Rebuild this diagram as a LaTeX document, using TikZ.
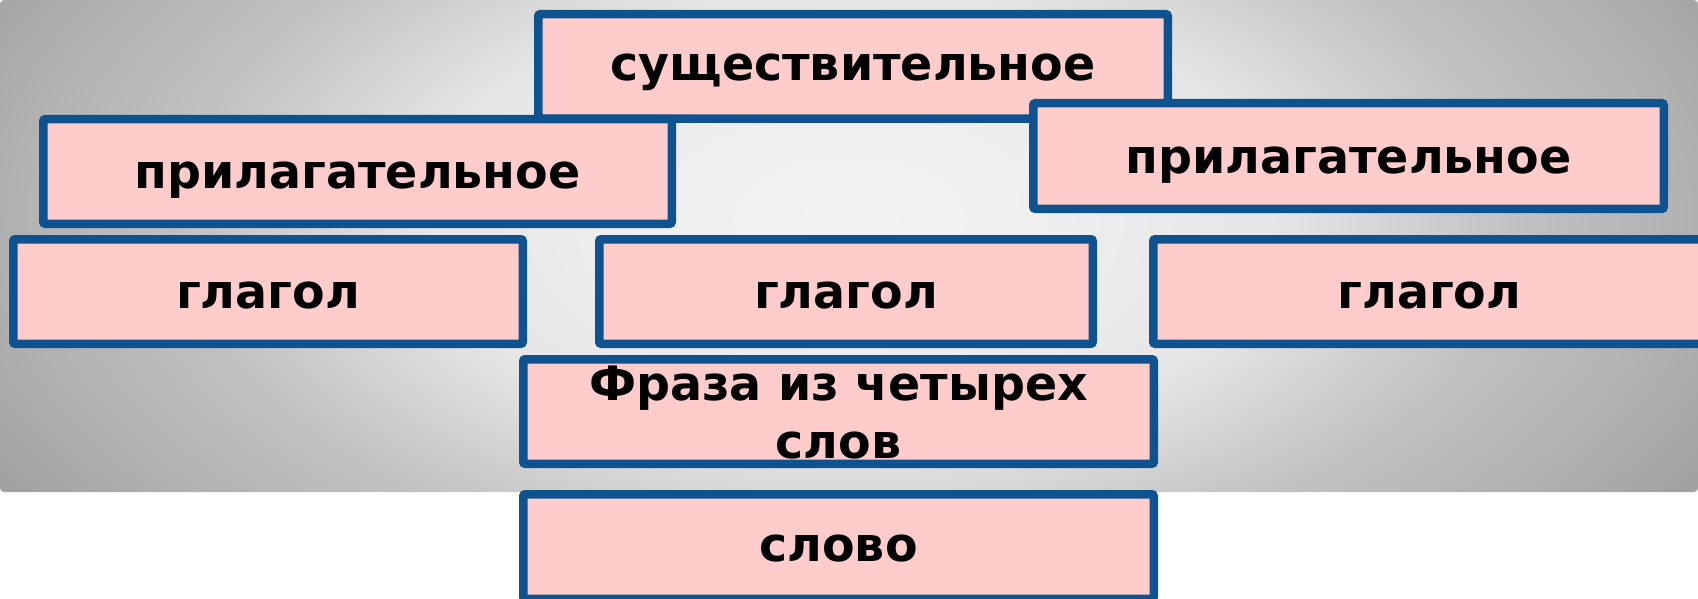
\documentclass[tikz,border=0pt]{standalone}
\usepackage{fontspec}
\setmainfont{DejaVu Sans}
\definecolor{bord}{RGB}{14,83,144}
\definecolor{pinkf}{RGB}{255,204,204}
\definecolor{bgA}{gray}{0.95}
\definecolor{bgB}{gray}{0.94}
\definecolor{bgC}{gray}{0.90}
\definecolor{bgD}{gray}{0.85}
\definecolor{bgE}{gray}{0.76}
\definecolor{bgF}{gray}{0.69}
\definecolor{bgG}{gray}{0.63}
\pgfdeclareradialshading{bgsh}{\pgfpoint{0bp}{0bp}}{color(0bp)=(bgA); color(5bp)=(bgB); color(12.5bp)=(bgC); color(15bp)=(bgD); color(19.5bp)=(bgE); color(25bp)=(bgF); color(29bp)=(bgG); color(100bp)=(bgG)}
\begin{document}
\begin{tikzpicture}[x=1pt,y=-1pt,
  box/.style={draw=bord, fill=pinkf, line width=8.5pt, rounded corners=2pt, inner sep=0pt, minimum height=104.5pt},
  lbl/.style={font=\fontsize{47.5}{58}\selectfont\bfseries, anchor=base, inner sep=0pt, text=black}]
\useasboundingbox (0,0) rectangle (1698,599);
\begin{scope}
  \clip[rounded corners=4pt] (0,0) rectangle (1698,492);
  \shade[shading=bgsh] (0,-230) rectangle (1698,670);
\end{scope}
% top row
\node[box, minimum width=629.5pt] (suw) at (853,66.5) {};
\node[lbl] (suwt) at (suw.center |- 0,81) {существительное};
\node[box, minimum width=628.5pt] (pl) at (357.5,171.5) {};
\node[lbl] (plt) at (pl.center |- 0,189) {прилагательное};
\node[box, minimum width=630.5pt, minimum height=105.5pt] (pr) at (1348.5,156) {};
\node[lbl] (prt) at (pr.center |- 0,174) {прилагательное};
% verbs
\node[box, minimum width=509.5pt] (gl) at (268,291.5) {};
\node[lbl] (glt) at (gl.center |- 0,308) {глагол};
\node[box, minimum width=493.5pt] (gm) at (846,291.5) {};
\node[lbl] (gmt) at (gm.center |- 0,308) {глагол};
\node[box, minimum width=552.5pt] (gr) at (1429.5,291.5) {};
\node[lbl] (grt) at (gr.center |- 0,308) {глагол};
% phrase and word
\node[box, minimum width=630.5pt] (fr) at (838.5,411.5) {};
\node[lbl] (frt1) at (fr.center |- 0,400) {Фраза из четырех};
\node[lbl] (frt2) at (fr.center |- 0,458) {слов};
\node[box, minimum width=630.5pt] (sl) at (838.5,546.5) {};
\node[lbl] (slt) at (sl.center |- 0,561) {слово};
\end{tikzpicture}
\end{document}
